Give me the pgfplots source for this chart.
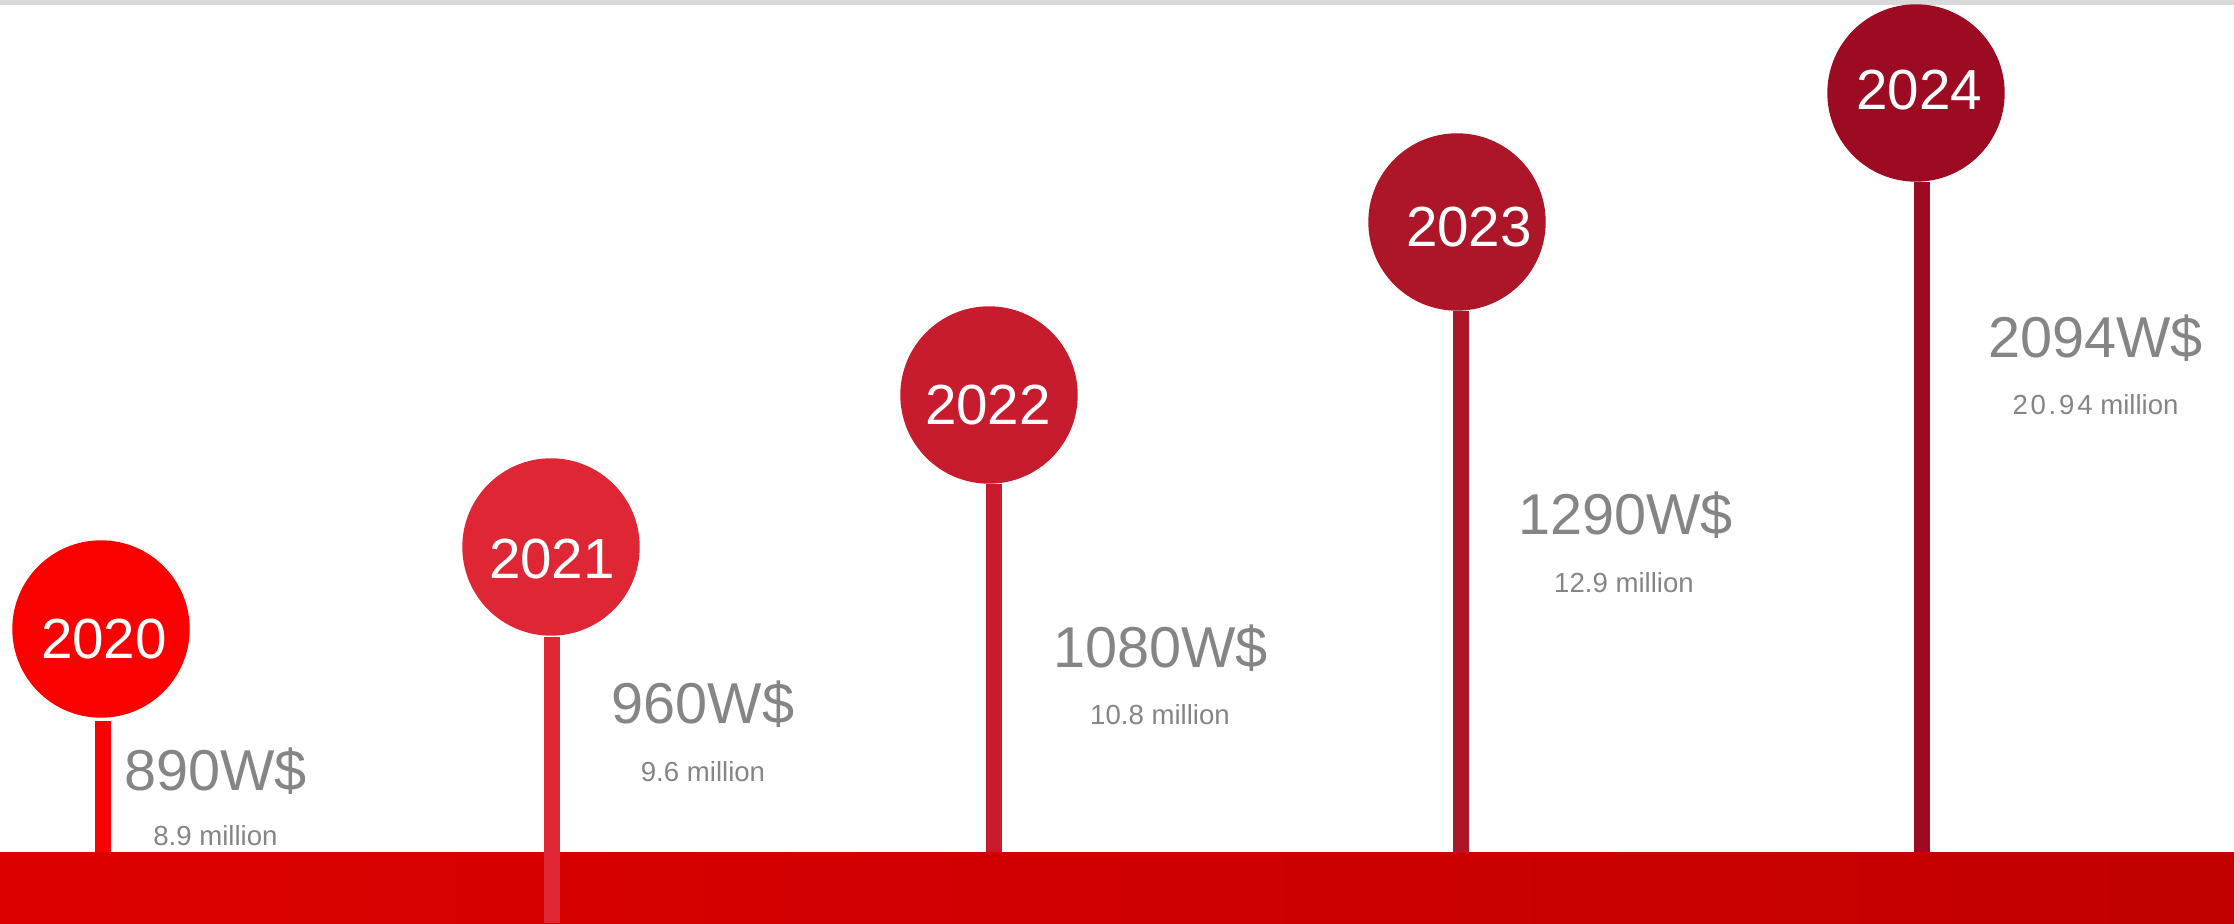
\documentclass[border=0pt]{standalone}
\usepackage{pgfplots}
\pgfplotsset{compat=1.18}
\usepackage{fontspec}
\setmainfont{Liberation Sans}
\definecolor{c2020}{RGB}{250,0,0}
\definecolor{c2021}{RGB}{222,38,52}
\definecolor{c2022}{RGB}{199,28,46}
\definecolor{c2023}{RGB}{173,22,40}
\definecolor{c2024}{RGB}{156,11,34}
\definecolor{bandL}{RGB}{221,0,0}
\definecolor{bandR}{RGB}{194,0,0}
\definecolor{txtgray}{RGB}{133,133,133}
\definecolor{topgray}{RGB}{217,217,217}
\newcommand{\bigval}[1]{\fontsize{16.4pt}{18pt}\selectfont\color{txtgray}#1}
\newcommand{\smallval}[1]{\fontsize{7.85pt}{9pt}\selectfont\color{txtgray}#1}
\newcommand{\yr}[1]{\fontsize{16.1pt}{18pt}\selectfont\color{white}#1}
\begin{document}
\begin{tikzpicture}
\begin{axis}[
  scale only axis, width=22.34cm, height=9.23cm,
  xmin=0, xmax=2234, ymin=0, ymax=923,
  hide axis, clip=false,
]
% bottom band
\addplot[draw=none, left color=bandL, right color=bandR] coordinates {(0,71) (2234,71)} \closedcycle;
% top gray rule
\addplot[topgray, line width=0.5mm] coordinates {(0,920.5) (2234,920.5)};
% stems
\addplot[c2020, line width=1.6mm] coordinates {(103,71) (103,202)};
\addplot[c2021, line width=1.6mm] coordinates {(552,0) (552,286)};
\addplot[c2022, line width=1.6mm] coordinates {(994,71) (994,439)};
\addplot[c2023, line width=1.6mm] coordinates {(1461,71) (1461,612)};
\addplot[c2024, line width=1.6mm] coordinates {(1922,71) (1922,741)};
% circles
\addplot[only marks, color=c2020, mark=*, mark size=8.8mm, mark options={draw=none, fill=c2020}] coordinates {(101,294)};
\addplot[only marks, color=c2021, mark=*, mark size=8.8mm, mark options={draw=none, fill=c2021}] coordinates {(551,376)};
\addplot[only marks, color=c2022, mark=*, mark size=8.8mm, mark options={draw=none, fill=c2022}] coordinates {(989,528)};
\addplot[only marks, color=c2023, mark=*, mark size=8.8mm, mark options={draw=none, fill=c2023}] coordinates {(1457,701)};
\addplot[only marks, color=c2024, mark=*, mark size=8.8mm, mark options={draw=none, fill=c2024}] coordinates {(1916,830)};
% anchor points for the year labels
\coordinate (y2020) at (axis cs:104,265);
\coordinate (y2021) at (axis cs:552,344);
\coordinate (y2022) at (axis cs:988,498);
\coordinate (y2023) at (axis cs:1469,676);
\coordinate (y2024) at (axis cs:1919,813);
% value labels
\node[anchor=base, inner sep=0pt] at (axis cs:215.5,133) {\bigval{890W\$}};
\node[anchor=base, inner sep=0pt] at (axis cs:215.5,78) {\smallval{8.9 million}};
\node[anchor=base, inner sep=0pt] at (axis cs:703,200) {\bigval{960W\$}};
\node[anchor=base, inner sep=0pt] at (axis cs:703,142) {\smallval{9.6 million}};
\node[anchor=base, inner sep=0pt] at (axis cs:1160.5,255.5) {\bigval{1080W\$}};
\node[anchor=base, inner sep=0pt] at (axis cs:1160,199) {\smallval{10.8 million}};
\node[anchor=base, inner sep=0pt] at (axis cs:1625.5,388) {\bigval{1290W\$}};
\node[anchor=base, inner sep=0pt] at (axis cs:1624,330) {\smallval{12.9 million}};
\node[anchor=base, inner sep=0pt] at (axis cs:2095.5,565) {\bigval{2094W\$}};
\node[anchor=base, inner sep=0pt] at (axis cs:2095.5,508) {\smallval{{\addfontfeatures{LetterSpace=10}20.94} million}};
\end{axis}
\node[anchor=base, inner sep=0pt] at (y2020) {\yr{2020}};
\node[anchor=base, inner sep=0pt] at (y2021) {\yr{2021}};
\node[anchor=base, inner sep=0pt] at (y2022) {\yr{2022}};
\node[anchor=base, inner sep=0pt] at (y2023) {\yr{2023}};
\node[anchor=base, inner sep=0pt] at (y2024) {\yr{2024}};
\pgfresetboundingbox
\useasboundingbox (current axis.south west) rectangle (current axis.north east);
\end{tikzpicture}
\end{document}
